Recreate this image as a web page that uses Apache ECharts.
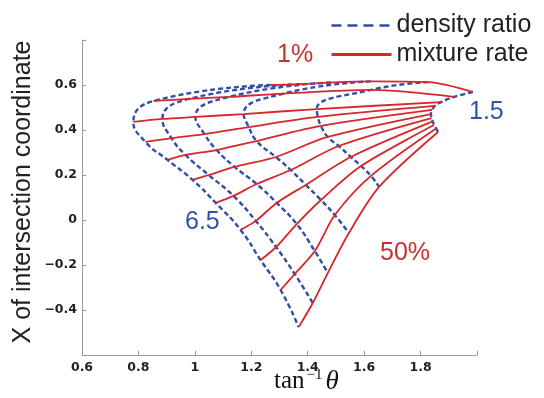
<!DOCTYPE html>
<html>
<head>
<meta charset="utf-8">
<title>density ratio / mixture rate</title>
<script src="https://cdn.jsdelivr.net/npm/echarts@6/dist/echarts.min.js"></script>
<style>
html, body { margin: 0; padding: 0; background: #fff; }
#myChart { width: 544px; height: 398px; }
</style>
</head>
<body>
<div id="myChart"></div>
<script>
// density ratio curves, each point is [tan^-1 theta, X], ordered from 1% (top) to 50% mixture rate
var ratio65 = [[1.269, 0.600], [0.853, 0.529], [0.782, 0.436], [0.825, 0.347], [0.903, 0.267], [0.992, 0.178],
               [1.074, 0.076], [1.162, -0.044], [1.233, -0.178], [1.304, -0.311], [1.368, -0.476]];
var ratio55 = [[1.375, 0.604], [0.978, 0.538], [0.885, 0.449], [0.917, 0.364], [0.967, 0.289], [1.049, 0.200],
               [1.137, 0.107], [1.216, -0.004], [1.288, -0.120], [1.354, -0.240], [1.418, -0.369]];
var ratio45 = [[1.482, 0.611], [1.120, 0.547], [1.002, 0.458], [1.034, 0.382], [1.077, 0.311], [1.141, 0.236],
               [1.219, 0.160], [1.290, 0.076], [1.361, -0.018], [1.425, -0.138], [1.471, -0.236]];
var ratio35 = [[1.624, 0.616], [1.315, 0.562], [1.173, 0.471], [1.191, 0.413], [1.219, 0.351], [1.287, 0.280],
               [1.340, 0.222], [1.393, 0.156], [1.447, 0.089], [1.496, 0.022], [1.546, -0.058]];
var ratio25 = [[1.827, 0.613], [1.624, 0.578], [1.432, 0.493], [1.436, 0.458], [1.447, 0.418], [1.471, 0.369],
               [1.510, 0.329], [1.553, 0.280], [1.589, 0.240], [1.624, 0.196], [1.653, 0.147]];
var ratio15 = [[1.985, 0.569], [1.919, 0.547], [1.873, 0.524], [1.851, 0.507], [1.841, 0.489], [1.837, 0.471],
               [1.839, 0.453], [1.843, 0.438], [1.848, 0.422], [1.855, 0.407], [1.862, 0.391]];

var ratioCurves = [ratio65, ratio55, ratio45, ratio35, ratio25, ratio15];

// axis ranges
var xMin = 0.6, xMax = 2.0, xStep = 0.2;
var yMin = -0.6, yMax = 0.8, yStep = 0.2;

var blue = '#2f4fa8';
var red = '#d6272c';

var series = [];
// blue dashed: one curve per density ratio
ratioCurves.forEach(function (curve) {
  series.push({
    name: 'density ratio',
    type: 'line',
    data: curve,
    smooth: 0.5,
    symbol: 'none',
    z: 2,
    itemStyle: { color: blue },
    lineStyle: { color: blue, width: 2.4, type: [5, 3] }
  });
});
// red solid: one line per mixture rate, joining the same point of every density curve
for (var k = 0; k < ratio65.length; k++) {
  series.push({
    name: 'mixture rate',
    type: 'line',
    data: ratioCurves.map(function (c) { return c[k]; }),
    smooth: 0.3,
    symbol: 'none',
    z: 3,
    itemStyle: { color: red },
    lineStyle: { color: red, width: 1.8 }
  });
}

var myChart = echarts.init(document.getElementById('myChart'));
myChart.setOption({
  animation: false,
  title: {
    text: '{a|tan}{b|−1}{c|θ}',
    left: 274,
    top: 368,
    padding: 0,
    textStyle: {
      rich: {
        a: { fontFamily: 'Liberation Serif', fontWeight: 'normal', fontSize: 25, color: '#111' },
        b: { fontFamily: 'Liberation Serif', fontWeight: 'normal', fontSize: 15, color: '#111', verticalAlign: 'top', padding: [0, 3, 0, 2] },
        c: { fontFamily: 'Liberation Serif', fontWeight: 'normal', fontStyle: 'italic', fontSize: 27, color: '#111' }
      }
    }
  },
  legend: {
    data: [
      { name: 'density ratio', lineStyle: { width: 2.5, type: [10, 6] } },
      { name: 'mixture rate', lineStyle: { width: 3 } }
    ],
    orient: 'vertical',
    left: 330,
    top: 13,
    padding: 0,
    itemWidth: 60,
    itemHeight: 14,
    itemGap: 4,
    selectedMode: false,
    itemStyle: { opacity: 0 },
    textStyle: { fontSize: 25, fontFamily: 'Liberation Sans', color: '#222' }
  },
  grid: { left: 82, right: 67, top: 40, bottom: 43, outerBoundsMode: 'none' },
  xAxis: {
    type: 'value',
    min: xMin, max: xMax, interval: xStep,
    axisLine: { onZero: false, lineStyle: { color: '#999' } },
    axisTick: { inside: true, length: 4, lineStyle: { color: '#999' } },
    splitLine: { show: false },
    axisLabel: {
      margin: 6,
      fontFamily: 'DejaVu Sans', fontWeight: 'bold', fontSize: 12.5, color: '#222',
      formatter: function (v) { return v > 1.9 ? '' : String(v); }
    }
  },
  yAxis: {
    type: 'value',
    min: yMin, max: yMax, interval: yStep,
    axisLine: { show: true, onZero: false, lineStyle: { color: '#999' } },
    axisTick: { show: true, inside: true, length: 4, lineStyle: { color: '#999' } },
    splitLine: { show: false },
    axisLabel: {
      margin: 5,
      fontFamily: 'DejaVu Sans', fontWeight: 'bold', fontSize: 12.5, color: '#222',
      formatter: function (v) {
        if (v < -0.5 || v > 0.7) return '';
        return String(v).replace('-', '−');
      }
    }
  },
  graphic: [
    {
      type: 'text', x: 23, y: 192, rotation: Math.PI / 2,
      style: { text: 'X of intersection coordinate', fontSize: 25, fontFamily: 'Liberation Sans', fill: '#222', align: 'center', verticalAlign: 'middle' }
    },
    { type: 'text', left: 277, top: 43, style: { text: '1%', fontSize: 25, fontFamily: 'Liberation Sans', fill: '#c8302d' } },
    { type: 'text', left: 380, top: 241, style: { text: '50%', fontSize: 25, fontFamily: 'Liberation Sans', fill: '#c8302d' } },
    { type: 'text', left: 185, top: 210, style: { text: '6.5', fontSize: 25, fontFamily: 'Liberation Sans', fill: '#2d55a6' } },
    { type: 'text', left: 469, top: 100, style: { text: '1.5', fontSize: 25, fontFamily: 'Liberation Sans', fill: '#2d55a6' } }
  ],
  series: series
});
</script>
</body>
</html>
